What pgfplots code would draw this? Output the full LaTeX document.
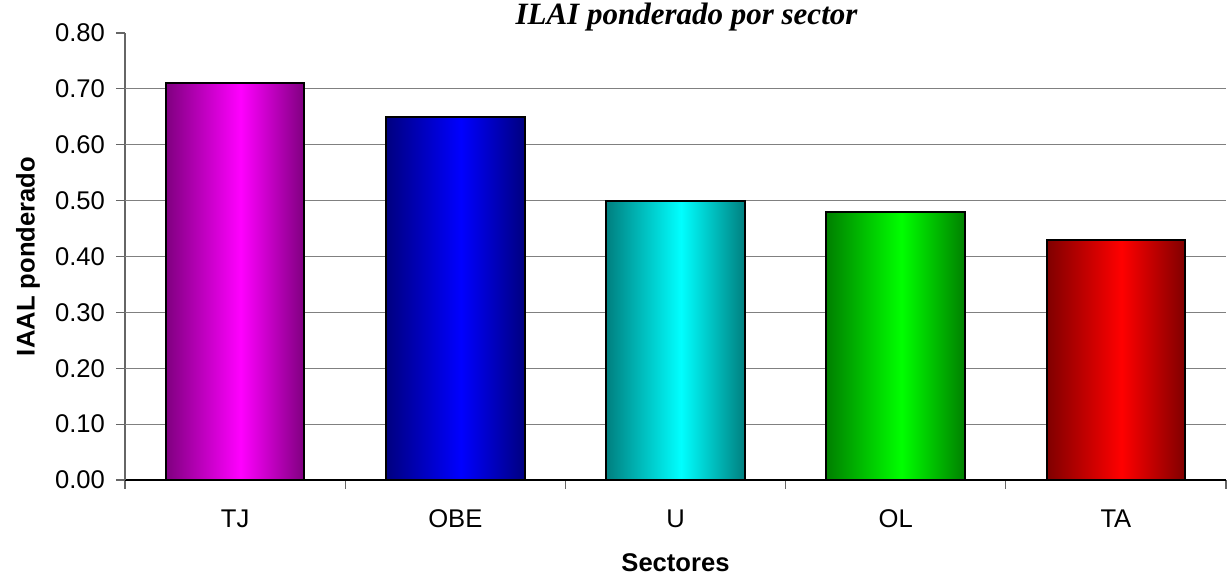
\documentclass[border=0pt]{standalone}
\usepackage{fontspec}
\setmainfont{Liberation Sans}
\newfontfamily\titlefont{Liberation Serif}
\usepackage{pgfplots}
\pgfplotsset{compat=1.18}

% horizontal gradients: dark edges, bright middle
\pgfdeclarehorizontalshading{shTJ}{100bp}{rgb(0bp)=(0.5,0,0.5); rgb(25bp)=(0.5,0,0.5); rgb(52bp)=(1,0,1); rgb(75bp)=(0.5,0,0.5); rgb(100bp)=(0.5,0,0.5)}
\pgfdeclarehorizontalshading{shOBE}{100bp}{rgb(0bp)=(0,0,0.5); rgb(25bp)=(0,0,0.5); rgb(52bp)=(0,0,1); rgb(75bp)=(0,0,0.5); rgb(100bp)=(0,0,0.5)}
\pgfdeclarehorizontalshading{shU}{100bp}{rgb(0bp)=(0,0.5,0.5); rgb(25bp)=(0,0.5,0.5); rgb(52bp)=(0,1,1); rgb(75bp)=(0,0.5,0.5); rgb(100bp)=(0,0.5,0.5)}
\pgfdeclarehorizontalshading{shOL}{100bp}{rgb(0bp)=(0,0.5,0); rgb(25bp)=(0,0.5,0); rgb(52bp)=(0,1,0); rgb(75bp)=(0,0.5,0); rgb(100bp)=(0,0.5,0)}
\pgfdeclarehorizontalshading{shTA}{100bp}{rgb(0bp)=(0.5,0,0); rgb(25bp)=(0.5,0,0); rgb(52bp)=(1,0,0); rgb(75bp)=(0.5,0,0); rgb(100bp)=(0.5,0,0)}

\begin{document}
\begin{tikzpicture}
\useasboundingbox (-62.5pt,-48pt) rectangle (553.5pt,240pt);
\begin{axis}[
    scale only axis,
    width=550.5pt, height=223.5pt,
    ybar, bar width=0.63,
    xmin=-0.5, xmax=4.5,
    ymin=0, ymax=0.8,
    axis lines*=left,
    x axis line style={black, line width=0.6pt},
    y axis line style={gray!80!black, line width=0.6pt},
    tick align=outside,
    major tick length=4.5pt,
    xtick={-0.5,0.5,1.5,2.5,3.5,4.5},
    xticklabels={},
    xtick style={gray!80!black, line width=0.6pt},
    extra x ticks={0,1,2,3,4},
    extra x tick labels={TJ,OBE,U,OL,TA},
    extra x tick style={major tick length=0pt, tick label style={yshift=-11.5pt}},
    ytick={0,0.1,0.2,0.3,0.4,0.5,0.6,0.7,0.8},
    ytick style={gray!80!black, line width=0.6pt},
    extra y ticks={0.1,0.2,0.3,0.4,0.5,0.6,0.7},
    extra y tick labels={},
    extra y tick style={grid=major, major tick length=0pt},
    grid style={gray, line width=0.6pt},
    yticklabel style={/pgf/number format/fixed, /pgf/number format/fixed zerofill, /pgf/number format/precision=2, /pgf/number format/assume math mode=true, xshift=-2pt},
    tick label style={font=\fontsize{12.8}{15}\selectfont},
    xlabel={Sectores},
    ylabel={IAAL ponderado},
    every axis x label/.style={at={(axis description cs:0.5,0)}, anchor=center, yshift=-41.5pt, font=\bfseries\fontsize{12.8}{15}\selectfont},
    every axis y label/.style={at={(axis description cs:0,0.5)}, xshift=-48.5pt, anchor=center, rotate=90, font=\bfseries\fontsize{12.8}{15}\selectfont},
    title={ILAI ponderado por sector},
    every axis title/.style={at={(axis description cs:0.51,1)}, anchor=center, yshift=8pt, font=\titlefont\bfseries\itshape\fontsize{15.5}{18}\selectfont},
]
\addplot[bar shift=0pt, draw=black, line width=1pt, shade, shading=shTJ] coordinates {(0,0.71)};
\addplot[bar shift=0pt, draw=black, line width=1pt, shade, shading=shOBE] coordinates {(1,0.65)};
\addplot[bar shift=0pt, draw=black, line width=1pt, shade, shading=shU] coordinates {(2,0.50)};
\addplot[bar shift=0pt, draw=black, line width=1pt, shade, shading=shOL] coordinates {(3,0.48)};
\addplot[bar shift=0pt, draw=black, line width=1pt, shade, shading=shTA] coordinates {(4,0.43)};
\end{axis}
\end{tikzpicture}
\end{document}
